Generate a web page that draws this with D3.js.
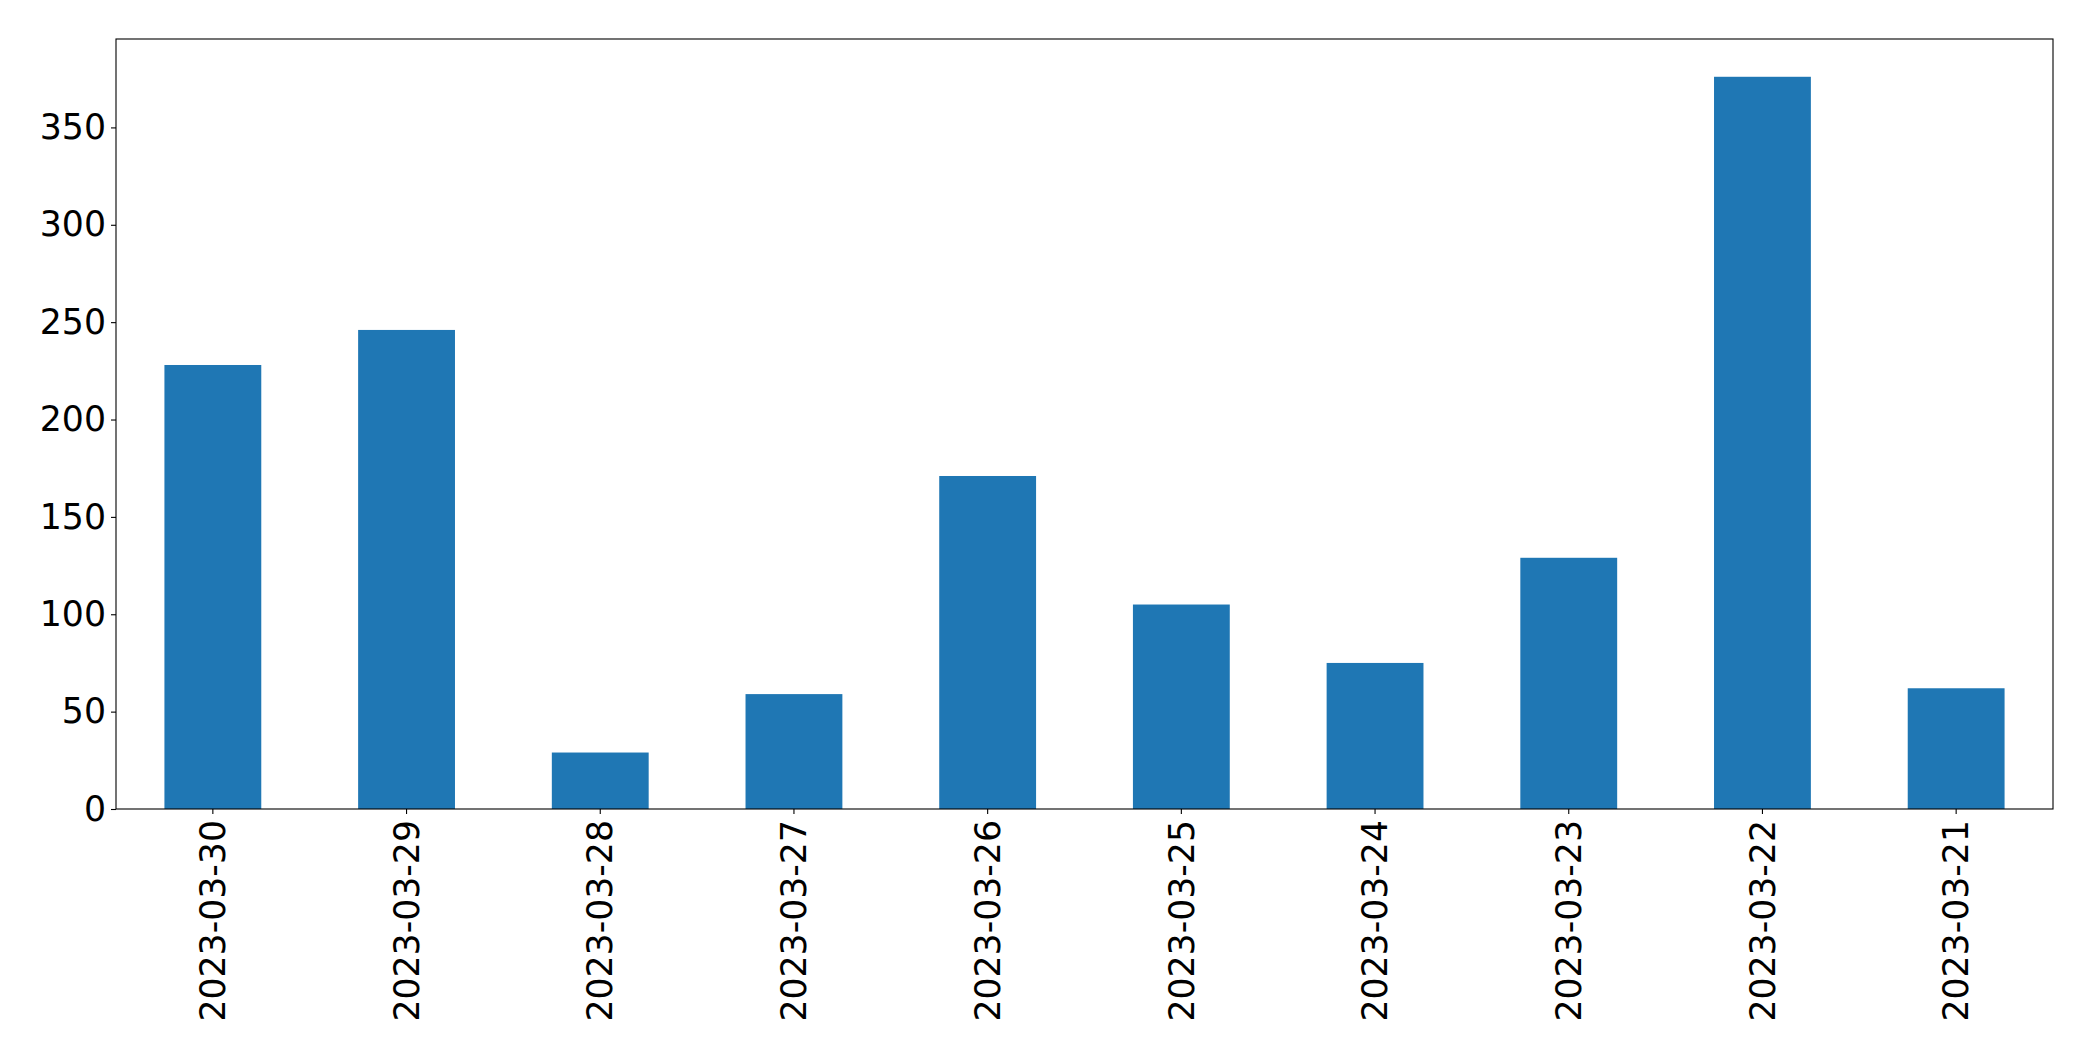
<!DOCTYPE html>
<html lang="en">
<head>
    <meta charset="UTF-8">
    <title>Daily counts</title>
    <script src="https://cdn.jsdelivr.net/npm/d3@7"></script>
    <style>
        body{
            margin: 0;
            background: #fff;
            font-family: "DejaVu Sans", sans-serif;
        }
    </style>
</head>
<body>
<svg id="main" width="2093" height="1061"></svg>
<script>

    const dates = ['2023-03-30', '2023-03-29', '2023-03-28', '2023-03-27', '2023-03-26',
                   '2023-03-25', '2023-03-24', '2023-03-23', '2023-03-22', '2023-03-21'];
    const counts = [228, 246, 29, 59, 171, 105, 75, 129, 376, 62];
    const yTicks = [0, 50, 100, 150, 200, 250, 300, 350];

    const margin = {top: 39, right: 40, bottom: 252, left: 116};
    const width = 2093, height = 1061;

    const svg = d3.select('svg#main');

    // band with half-width bars, like pandas .plot.bar()
    const x = d3.scaleBand()
        .domain(dates)
        .range([margin.left, width - margin.right])
        .paddingInner(0.5)
        .paddingOuter(0.25);

    const y = d3.scaleLinear()
        .domain([0, 395.4])
        .range([height - margin.bottom, margin.top]);

    svg.append('g')
        .selectAll('rect')
        .data(counts)
        .enter()
        .append('rect')
        .attr('x', (d, i) => x(dates[i]))
        .attr('y', d => y(d))
        .attr('width', x.bandwidth())
        .attr('height', d => y(0) - y(d))
        .attr('fill', '#1f77b4');

    // frame
    svg.append('rect')
        .attr('x', margin.left)
        .attr('y', margin.top)
        .attr('width', width - margin.right - margin.left)
        .attr('height', height - margin.bottom - margin.top)
        .attr('fill', 'none')
        .attr('stroke', '#000')
        .attr('stroke-width', 1.1);

    const yAxis = svg.append('g')
        .attr('transform', `translate(${margin.left},0)`)
        .call(d3.axisLeft(y).tickValues(yTicks).tickSize(5).tickPadding(5));

    const xAxis = svg.append('g')
        .attr('transform', `translate(0,${height - margin.bottom})`)
        .call(d3.axisBottom(x).tickSize(5).tickPadding(5));

    [yAxis, xAxis].forEach(a => {
        a.select('.domain').remove();
        a.selectAll('line').attr('stroke', '#000').attr('stroke-width', 1.1);
        a.selectAll('text')
            .attr('fill', '#000')
            .style('font-family', '"DejaVu Sans", sans-serif')
            .style('font-size', '34.7px');
    });

    xAxis.selectAll('text')
        .attr('transform', 'rotate(-90)')
        .attr('text-anchor', 'end')
        .attr('x', -11)
        .attr('y', 0)
        .attr('dy', '0.35em');

</script>
</body>
</html>
